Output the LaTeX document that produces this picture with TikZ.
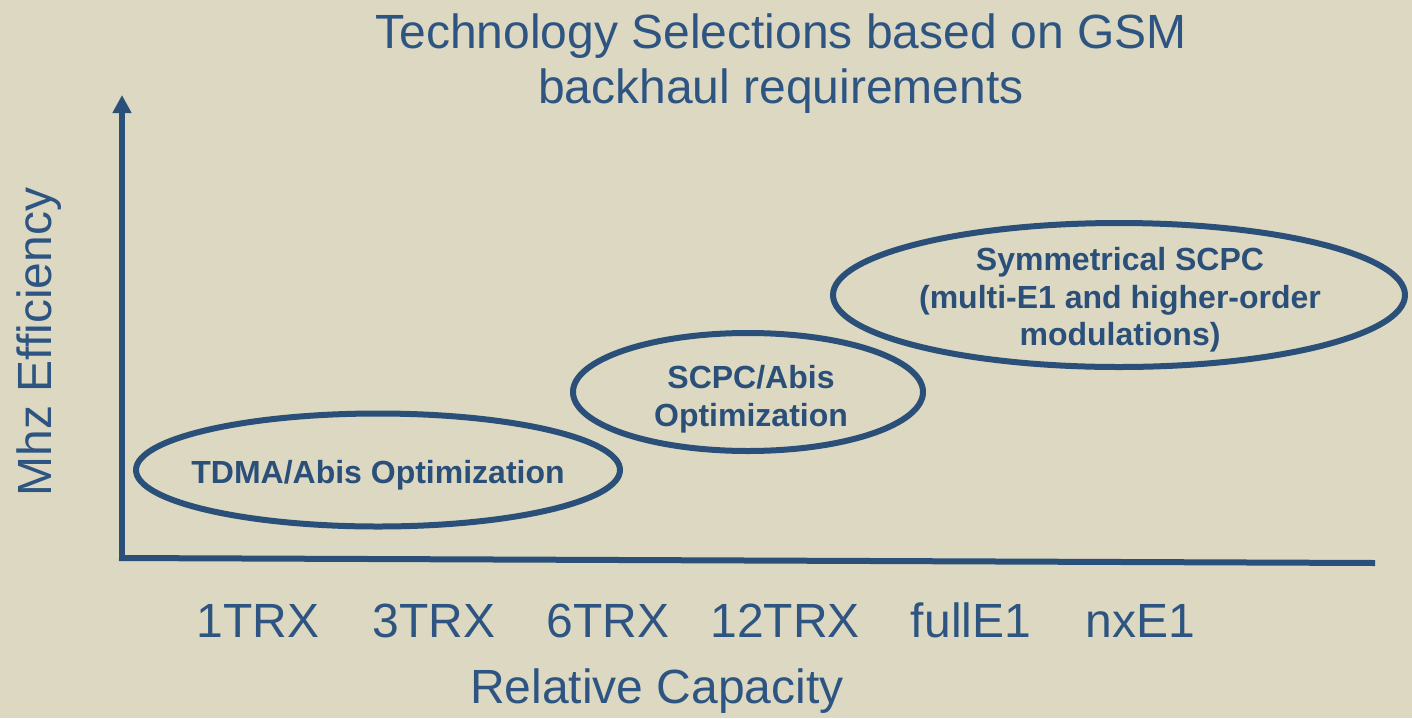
\documentclass[tikz,border=0pt]{standalone}
\usepackage{fontspec}
\setmainfont{Liberation Sans}
\usetikzlibrary{shapes.geometric,arrows.meta}
\definecolor{bgc}{HTML}{DDD8C2}
\definecolor{navy}{HTML}{2A5079}
\definecolor{titleblue}{HTML}{2E5582}
\tikzset{
  axisline/.style={draw=navy, line width=6pt, line cap=butt},
  oval/.style={ellipse, draw=navy, line width=6pt, inner sep=0pt},
  ovaltext/.style={text=navy, font=\bfseries\fontsize{32}{37.5}\selectfont, align=center, inner sep=0pt},
  bigtext/.style={text=titleblue, font=\fontsize{48}{55}\selectfont, inner sep=0pt, anchor=base},
}
\begin{document}
\begin{tikzpicture}[x=1pt,y=-1pt]
\fill[bgc] (0,0) rectangle (1412,718);
\useasboundingbox (0,0) rectangle (1412,718);
% title
\node[bigtext] (t1) at (781,48) {Technology Selections based on GSM};
\node[bigtext] (t2) at (781,103) {backhaul requirements};
% axes
\coordinate (O) at (122,561);
\coordinate (ytop) at (122,95);
\coordinate (xstart) at (119,558);
\coordinate (xend) at (1375,563);
\draw[axisline, -{Triangle[length=18pt,width=18pt]}] (O) -- (ytop);
\draw[axisline] (xstart) -- (xend);
% ellipses
\node[oval, minimum width=484pt, minimum height=113pt] (e1) at (378,470) {};
\node[ovaltext] (l1) at (378,475) {TDMA/Abis Optimization};
\node[oval, minimum width=350pt, minimum height=118pt] (e2) at (748,392) {};
\node[ovaltext] (l2) at (751,399) {SCPC/Abis\\Optimization};
\node[oval, minimum width=572pt, minimum height=144pt] (e3) at (1119,295) {};
\node[ovaltext] (l3) at (1120,300) {Symmetrical SCPC\\(multi-E1 and higher-order\\modulations)};
% x labels
\node[bigtext] (x1) at (258,637) {1TRX};
\node[bigtext] (x2) at (434,637) {3TRX};
\node[bigtext] (x3) at (608,637) {6TRX};
\node[bigtext] (x4) at (785,637) {12TRX};
\node[bigtext] (x5) at (971,637) {fullE1};
\node[bigtext] (x6) at (1140,637) {nxE1};
\node[bigtext] (xl) at (657,703) {Relative Capacity};
\node[bigtext, rotate=90] (yl) at (51,342) {Mhz Efficiency};
\end{tikzpicture}
\end{document}
